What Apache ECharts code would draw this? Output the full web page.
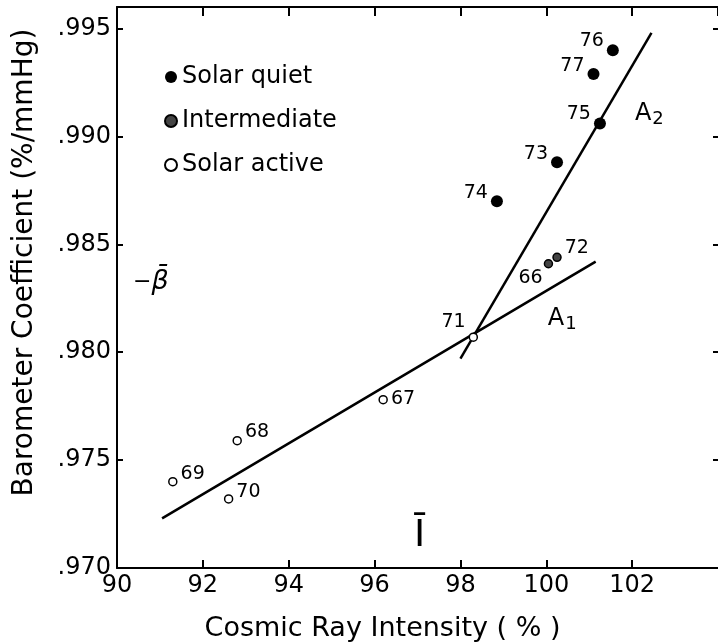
<!DOCTYPE html>
<html><head><meta charset="utf-8">
<script src="https://cdn.jsdelivr.net/npm/echarts@6/dist/echarts.min.js"></script>
<style>html,body{margin:0;padding:0;background:#fff;overflow:hidden}#c{width:718px;height:643px}</style>
</head><body><div id="c"></div>
<script>
// Data (x: cosmic ray intensity %, y: barometer coefficient, year label)
const quietPts = [[101.55, 0.9940, '76'], [101.1, 0.9929, '77'], [101.25, 0.9906, '75'], [100.25, 0.9888, '73'], [98.85, 0.9870, '74']];
const interPts = [[100.05, 0.9841, '66'], [100.25, 0.9844, '72']];
const activePts = [[98.3, 0.9807, '71'], [96.2, 0.9778, '67'], [92.8, 0.9759, '68'], [91.3, 0.9740, '69'], [92.6, 0.9732, '70']];
const lineA1 = [[91.05, 0.9723], [101.15, 0.9842]];
const lineA2 = [[98.0, 0.9797], [102.45, 0.9948]];
const legendNames = ['Solar quiet', 'Intermediate', 'Solar active'];
const xTicks = [90, 92, 94, 96, 98, 100, 102];
const yTicks = [0.970, 0.975, 0.980, 0.985, 0.990, 0.995];
const annotations = [
  { pos: [102.4, 0.99107], text: '{a|A}{s|2}' },
  { pos: [100.37, 0.98157], text: '{a|A}{s|1}' },
  { pos: [90.79, 0.98324], text: '{m|−}{b|β̄}' },
  { pos: [97.05, 0.97150], text: '{i|Ī}' }
];

const FONT = 'DejaVu Sans';
// label placement per year (style only)
const labelPlace = {
  '76': ['left', [0, -9]], '77': ['left', [0, -8]], '75': ['left', [0, -9]],
  '73': ['left', [0, -8]], '74': ['left', [0, -8]],
  '66': ['left', [2, 14]], '72': ['right', [0, -9]],
  '71': ['left', [0, -15]], '67': ['right', [0, -1]], '68': ['right', [0, -9]],
  '69': ['right', [0, -8]], '70': ['right', [0, -7]]
};
function toData(arr) {
  return arr.map(d => ({
    value: [d[0], d[1]], name: d[2],
    label: { position: labelPlace[d[2]][0], offset: labelPlace[d[2]][1] }
  }));
}
const ptLabel = { show: true, formatter: p => p.name, color: '#000', fontFamily: FONT, fontSize: 19, distance: 3 };

const chart = echarts.init(document.getElementById('c'));
const fmtY = v => {
  const r = Math.round(v * 1000) / 1000;
  return yTicks.some(t => Math.abs(t - r) < 1e-9) ? r.toFixed(3).replace(/^0/, '') : '';
};
chart.setOption({
  animation: false,
  backgroundColor: '#fff',
  grid: { left: 117, right: 0, top: 7, bottom: 75, outerBoundsMode: 'none', containLabel: false },
  legend: {
    data: legendNames, orient: 'vertical', left: 159, top: 60,
    itemWidth: 12, itemHeight: 12, itemGap: 20,
    textStyle: { fontFamily: FONT, fontSize: 24, color: '#000' }
  },
  xAxis: [{
    type: 'value', min: 90, max: 104, interval: 2,
    name: 'Cosmic Ray Intensity ( % )', nameLocation: 'middle', nameGap: 47,
    nameTextStyle: { fontFamily: FONT, fontSize: 27, color: '#000', padding: [0, 70, 0, 0] },
    axisLine: { show: true, lineStyle: { color: '#000', width: 2 } },
    axisTick: { show: true, inside: true, length: 8, lineStyle: { color: '#000', width: 2 } },
    axisLabel: { showMaxLabel: false, fontFamily: FONT, fontSize: 24, color: '#000', margin: 6,
      formatter: v => xTicks.indexOf(v) >= 0 ? String(v) : '' },
    splitLine: { show: false }
  }, {
    type: 'value', position: 'top', min: 90, max: 104, interval: 2,
    axisLine: { show: true, lineStyle: { color: '#000', width: 2 } },
    axisTick: { show: true, inside: true, length: 9, lineStyle: { color: '#000', width: 2 } },
    axisLabel: { show: false }, splitLine: { show: false }
  }],
  yAxis: [{
    type: 'value', min: 0.970, max: 0.996, interval: 0.005,
    name: 'Barometer Coefficient (%/mmHg)', nameLocation: 'middle', nameGap: 78,
    nameTextStyle: { fontFamily: FONT, fontSize: 28, color: '#000', padding: [0, 0, 0, 50] },
    axisLine: { show: true, lineStyle: { color: '#000', width: 2 } },
    axisTick: { show: true, inside: true, length: 6, lineStyle: { color: '#000', width: 2 } },
    axisLabel: { showMaxLabel: false, fontFamily: FONT, fontSize: 24, color: '#000', margin: 6, formatter: fmtY },
    splitLine: { show: false }
  }, {
    type: 'value', position: 'right', min: 0.970, max: 0.996, interval: 0.005,
    axisLine: { show: false },
    axisTick: { show: true, inside: true, length: 5, lineStyle: { color: '#000', width: 2 } },
    axisLabel: { show: false }, splitLine: { show: false }
  }],
  series: [
    { type: 'line', name: 'A1', data: lineA1, symbol: 'none', lineStyle: { color: '#000', width: 2.5 }, z: 1 },
    { type: 'line', name: 'A2', data: lineA2, symbol: 'none', lineStyle: { color: '#000', width: 2.5 }, z: 1 },
    { type: 'scatter', name: legendNames[0], data: toData(quietPts), symbolSize: 12,
      itemStyle: { color: '#000', opacity: 1 }, label: ptLabel, z: 3 },
    { type: 'scatter', name: legendNames[1], data: toData(interPts), symbolSize: 8,
      itemStyle: { color: '#444', borderColor: '#000', borderWidth: 1.5, opacity: 1 }, label: ptLabel, z: 3 },
    { type: 'scatter', name: legendNames[2], data: toData(activePts), symbolSize: 8,
      itemStyle: { color: '#fff', borderColor: '#000', borderWidth: 1.5, opacity: 1 }, label: ptLabel, z: 3 },
    { type: 'scatter', name: 'annot', symbolSize: 0, silent: true, z: 4,
      itemStyle: { opacity: 1 },
      data: annotations.map(a => ({ value: a.pos, label: { formatter: a.text } })),
      label: { show: true, position: 'inside', color: '#000', fontFamily: FONT,
        rich: {
          a: { fontSize: 24, fontFamily: FONT, color: '#000' },
          s: { fontSize: 18, fontFamily: FONT, color: '#000', padding: [12, 0, 0, 1] },
          m: { fontSize: 22, fontFamily: FONT, color: '#000' },
          b: { fontSize: 27, fontFamily: FONT, fontStyle: 'italic', color: '#000' },
          i: { fontSize: 38, fontFamily: FONT, color: '#000' }
        } } }
  ]
});
</script></body></html>
